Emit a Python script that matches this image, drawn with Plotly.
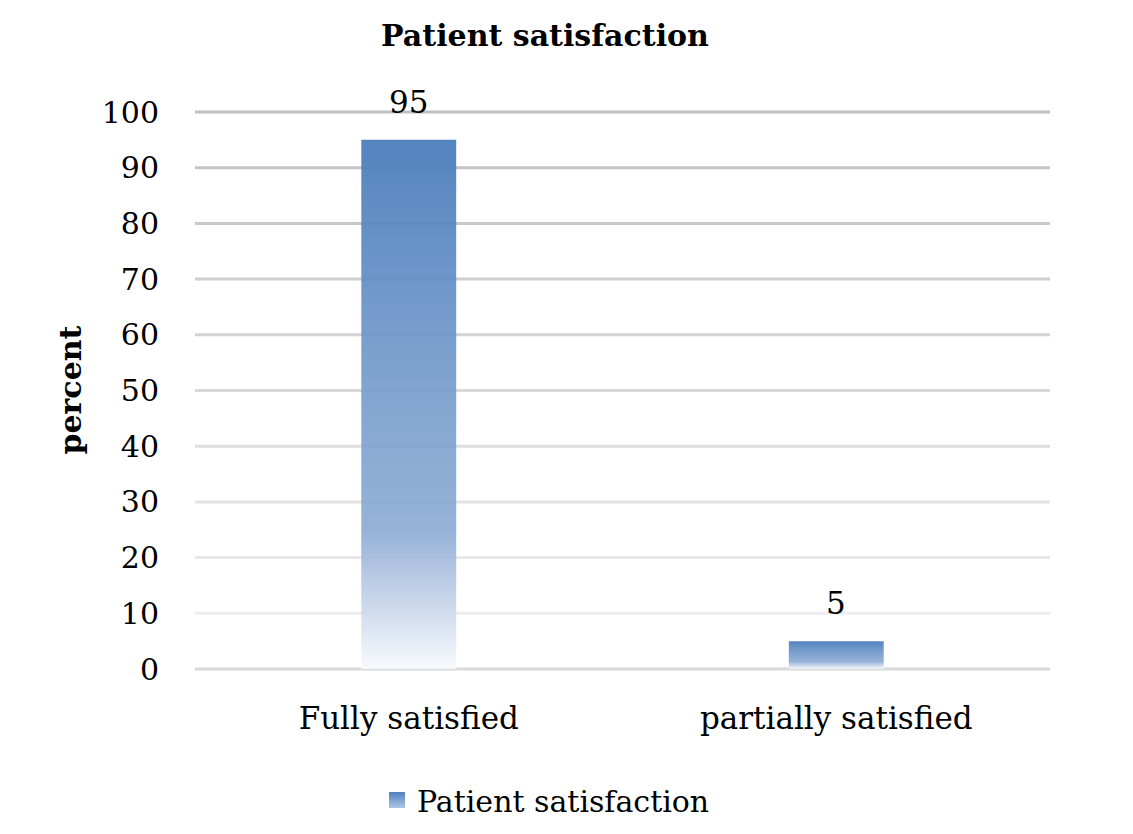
import plotly.graph_objects as go

categories = ["Fully satisfied", "partially satisfied"]
values = [95, 5]
series_name = "Patient satisfaction"
chart_title = "Patient satisfaction"
y_title = "percent"
y_ticks = [0, 10, 20, 30, 40, 50, 60, 70, 80, 90, 100]

FONT = "DejaVu Serif"
OFF = 8  # page body margin
PAD = 2  # extra pixels so edge gridlines are not clipped
W, H = 1133 - OFF, 834 - OFF
L, R, T, B = 195 - OFF, 83, 112 - OFF - PAD, 165 - PAD
px_per_unit = (669 - 112) / 100.0
y_pad = PAD / px_per_unit
bar_half = 0.111

gradient = [
    [0.0, "rgba(248,250,253,0.95)"],
    [0.12, "rgba(200,214,235,0.93)"],
    [0.26, "rgba(142,172,212,0.92)"],
    [0.6, "rgba(112,152,202,0.92)"],
    [1.0, "rgba(74,126,187,0.95)"],
]

fig = go.Figure()

for i, (cat, v) in enumerate(zip(categories, values)):
    fig.add_trace(go.Scatter(
        x=[i - bar_half, i + bar_half, i + bar_half, i - bar_half, i - bar_half],
        y=[0, 0, v, v, 0],
        mode="none",
        fill="toself",
        fillgradient=dict(type="vertical", colorscale=gradient),
        name=series_name,
        showlegend=False,
        hoverinfo="skip",
    ))

# legend entry
fig.add_trace(go.Scatter(
    x=[None], y=[None], mode="markers", name=series_name,
    marker=dict(symbol="square", size=20, color="rgb(79,129,189)",
                gradient=dict(type="vertical", color="rgb(175,198,228)"),
                line=dict(width=0)),
    showlegend=True, hoverinfo="skip",
))

for i, v in enumerate(values):
    fig.add_annotation(
        x=i, y=v, xref="x", yref="y", text=str(v), showarrow=False,
        xanchor="center", yanchor="bottom", yshift=18,
        font=dict(family=FONT, size=31, color="#000000"),
    )

# gridlines fading from darker (top) to lighter (bottom)
def grid_color(t):
    top, bot = 191, 242
    g = round(bot + (top - bot) * t)
    return f"rgb({g},{g},{g})"

for yv in y_ticks:
    if yv == 0:
        col = "rgb(217,217,217)"
    else:
        col = grid_color(yv / max(y_ticks))
    fig.add_shape(type="line", xref="paper", yref="y", x0=0, x1=1, y0=yv, y1=yv,
                  line=dict(color=col, width=3), layer="below")

fig.add_annotation(
    text=f"<b>{y_title}</b>", textangle=-90,
    xref="paper", yref="paper", x=(70 - 195) / (1050 - 195), y=0.5,
    xanchor="center", yanchor="middle", showarrow=False,
    font=dict(family=FONT, size=30, color="#000000"),
)

fig.update_layout(
    width=W, height=H,
    margin=dict(l=L, r=R, t=T, b=B),
    paper_bgcolor="white", plot_bgcolor="white",
    title=dict(text=f"<b>{chart_title}</b>", x=(545 - OFF) / W, xref="container", xanchor="center",
               y=1 - (35 - OFF) / H, yref="container", yanchor="middle",
               font=dict(family=FONT, size=30, color="#000000")),
    xaxis=dict(range=[-0.5, len(categories) - 0.5], tickvals=list(range(len(categories))),
               ticktext=categories, showgrid=False, zeroline=False, showline=False,
               ticks="", ticklabelstandoff=28 - PAD,
               tickfont=dict(family=FONT, size=31, color="#000000")),
    yaxis=dict(range=[-y_pad, 100 + y_pad], tickvals=y_ticks, showgrid=False, zeroline=False,
               showline=False, ticks="", ticklabelstandoff=35,
               tickfont=dict(family=FONT, size=30, color="#000000")),
    legend=dict(orientation="h", x=(546 - OFF - L) / (W - L - R), xref="paper", xanchor="center",
                y=1 - (800 - OFF) / H, yref="container", yanchor="middle",
                font=dict(family=FONT, size=30, color="#000000"),
                itemwidth=30),
    showlegend=True,
)

fig.write_html("out.html")
